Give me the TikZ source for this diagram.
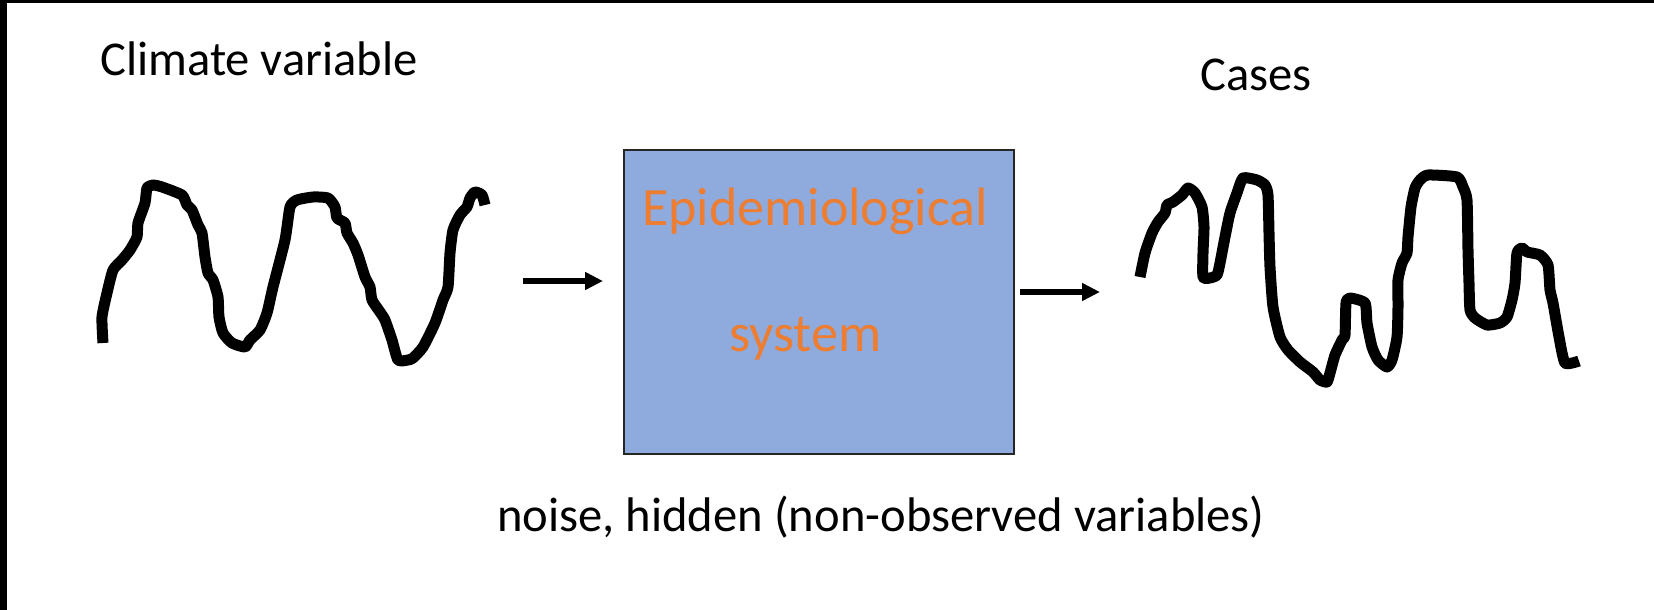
\documentclass[tikz,border=0pt]{standalone}
\usepackage{fontspec}
\setmainfont{Carlito}
\usetikzlibrary{arrows.meta}
\definecolor{boxblue}{HTML}{8FAADC}
\definecolor{txtorange}{HTML}{ED7D31}
\begin{document}
\begin{tikzpicture}[x=1pt,y=-1pt,
  wave/.style={line width=11pt, line join=round, line cap=butt},
  flow/.style={line width=6pt, -{Triangle[length=18pt,width=17pt]}},
  lbl/.style={inner sep=0pt, anchor=base west, font=\fontsize{48.6}{58}\selectfont},
  boxlbl/.style={inner sep=0pt, anchor=base west, text=txtorange, font=\fontsize{54}{65}\selectfont},
  sysbox/.style={draw=black!85, line width=2pt, fill=boxblue, inner sep=0pt}]
  % page frame
  \useasboundingbox (0,0) rectangle (1654,610);
  \fill[white] (0,0) rectangle (1654,610);
  \fill[black] (0,0) rectangle (7,610);
  \fill[black] (0,0) rectangle (1654,3);

  % titles
  \node[lbl] (climate) at (100,76) {Climate variable};
  \node[lbl] (cases) at (1200,90) {Cases};
  \node[lbl] (noise) at (497,531) {noise, hidden (non-observed variables)};

  % system box
  \node[sysbox, minimum width=390pt, minimum height=304pt] (sys) at (818.5,302) {};
  \node[boxlbl] (epi) at (642,225) {Epidemiological};
  \node[boxlbl] (systxt) at (729,351) {system};

  % input signal
  \draw[wave] plot[smooth, tension=0.35] coordinates {
    (103,343) (102,317) (107,293) (113,270) (122,260) (130,250) (137,237)
    (138,223) (145,203) (147,188) (153,185) (162,187) (182,195) (187,205)
    (192,210) (198,225) (202,233) (205,257) (208,273) (213,280) (218,297)
    (219,317) (223,333) (232,343) (245,347) (250,340) (260,330) (267,313)
    (273,287) (285,240) (290,207) (297,200) (313,197) (328,198) (335,207)
    (337,218) (345,223) (347,233) (353,243) (358,255) (365,277) (370,287)
    (372,300) (380,312) (385,320) (392,340) (398,360) (408,360) (413,358)
    (423,347) (435,323) (443,300) (448,287) (450,253) (453,230) (460,215)
    (467,207) (470,198) (475,192) (482,195) (485,205)};

  % output signal
  \draw[wave] plot[smooth, tension=0.35] coordinates {
    (1140,277) (1145,253) (1152,233) (1158,222) (1165,213) (1167,205)
    (1173,202) (1182,195) (1188,188) (1195,193) (1202,207) (1204,227)
    (1203,253) (1203,277) (1210,278) (1217,275) (1220,263) (1225,237)
    (1230,213) (1237,193) (1243,178) (1257,180) (1265,185) (1268,195)
    (1269,233) (1270,267) (1273,307) (1280,337) (1288,350) (1300,362)
    (1313,372) (1320,380) (1327,382) (1330,373) (1335,355) (1342,340)
    (1345,335) (1346,303) (1350,298) (1365,303) (1367,323) (1372,347)
    (1378,360) (1387,367) (1392,360) (1397,337) (1398,307) (1398,280)
    (1402,263) (1407,253) (1408,237) (1411,207) (1415,188) (1420,180)
    (1428,175) (1457,177) (1463,187) (1467,200) (1468,250) (1469,283)
    (1470,310) (1475,318) (1487,325) (1500,323) (1507,317) (1512,300)
    (1515,283) (1517,253) (1522,248) (1527,252) (1540,255) (1548,265)
    (1550,290) (1553,303) (1559,337) (1565,363) (1579,361)};

  % arrows into and out of the system
  \coordinate (inA) at (523,281);
  \coordinate (inB) at (603,281);
  \coordinate (outA) at (1020,292);
  \coordinate (outB) at (1100,292);
  \draw[flow] (inA) -- (inB);
  \draw[flow] (outA) -- (outB);
\end{tikzpicture}
\end{document}
